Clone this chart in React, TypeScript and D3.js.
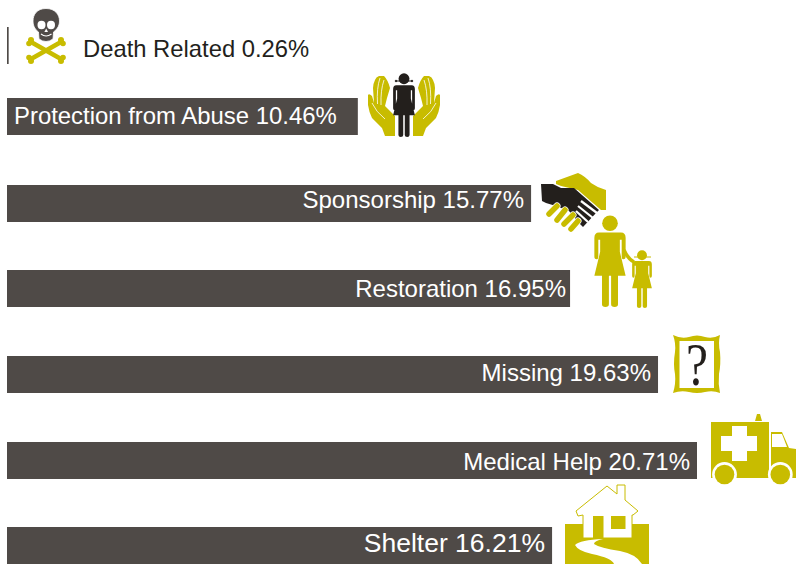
import React from "react";
import * as d3 from "d3";

const categories = ["Death Related", "Protection from Abuse", "Sponsorship", "Restoration", "Missing", "Medical Help", "Shelter"];
const percentLabels = [0.26, 10.46, 15.77, 16.95, 19.63, 20.71, 16.21];
// bar lengths as actually drawn in the picture, in percent units
const drawnLengths = [0.05, 10.53, 15.73, 16.9, 19.54, 20.71, 16.36];

const OLIVE = "#c8bc00";
const BAR = "#4f4a47";
const INK = "#231f1c";
const FONT = "'Liberation Sans', Arial, sans-serif";

const x = d3.scaleLinear().domain([0, 20.71]).range([7, 697]);
const y = d3.scaleLinear().domain([0, 1, 2, 3, 4, 5, 6]).range([27, 98, 185, 270, 356, 442, 527]);
const barH = 37;

function Person({ cx, top, h, fill, arm = 48 }: { cx: number; top: number; h: number; fill: string; arm?: number }) {
  // unit shape: 100 high, centred on 0; arm = percentage height where the arms end
  const k = h / 100;
  const a = arm;
  return (
    <g transform={`translate(${cx},${top}) scale(${k})`} fill={fill}>
      <circle cx={0} cy={9} r={8.5} />
      <path d={`M-12 19 H12 Q17 19 17 25 V${a - 3} Q17 ${a} 14.7 ${a} Q12.7 ${a} 12.7 ${a - 3} V27 H10.7 V40 L17 66 H8.7 V97 Q8.7 100 5 100 Q1.2 100 1.2 97 V66 H-1.2 V97 Q-1.2 100 -5 100 Q-8.7 100 -8.7 97 V66 H-17 L-10.7 40 V27 H-12.7 V${a - 3} Q-12.7 ${a} -14.7 ${a} Q-17 ${a} -17 ${a - 3} V25 Q-17 19 -12 19 Z`} />
    </g>
  );
}

function Skull() {
  return (
    <g>
      <g stroke={OLIVE} strokeWidth={4.5} strokeLinecap="round">
        <line x1={31} y1={42} x2={61} y2={59} />
        <line x1={61} y1={42} x2={31} y2={59} />
      </g>
      <g fill={OLIVE}>
        <circle cx={31} cy={40} r={3} /><circle cx={29} cy={43.5} r={2.8} />
        <circle cx={61} cy={40} r={3} /><circle cx={63} cy={43.5} r={2.8} />
        <circle cx={31} cy={61} r={3} /><circle cx={29} cy={57.5} r={2.8} />
        <circle cx={61} cy={61} r={3} /><circle cx={63} cy={57.5} r={2.8} />
      </g>
      <path fill={BAR} stroke="#fff" strokeWidth={0.8} d="M46 8.5 C37 8.5 33 14.5 33 21 C33 27 36 30 38.5 32 L39 39 Q46 44 53 39 L53.5 32 C56 30 59.5 27 59.5 21 C59.5 14.5 55 8.5 46 8.5 Z" />
      <g fill="#fff">
        <ellipse cx={41.5} cy={25} rx={4} ry={4.2} />
        <ellipse cx={51} cy={25} rx={4} ry={4.2} />
        <path d="M46.2 28.5 L48 32 H44.4 Z" />
      </g>
      <path d="M41 34 Q46 38 51.5 34" fill="none" stroke="#fff" strokeWidth={1.2} />
    </g>
  );
}

function Hand() {
  return (
    <g>
      <path fill={OLIVE} d="M379 76 Q376 77 375 80 Q373 84 373 88 L374 103 L372 96 Q369 93 368 95 L368 105 Q369 112 372 118 L382 128 L385 136 H395 V116 L385 106 L387 98 L390 88 Q388 80 384 76 Z" />
      <g stroke="#fff" strokeWidth={0.8} fill="none">
        <path d="M380 78 Q376.5 88 377.5 104" />
        <path d="M384 80 Q380.5 90 381 105" />
        <path d="M372 103 Q376 112 385 119" />
      </g>
    </g>
  );
}

function Hands() {
  return (
    <g>
      <Hand />
      <g transform="translate(808,0) scale(-1,1)"><Hand /></g>
      <Person cx={404} top={73} h={64} fill={INK} arm={58} />
      <g stroke={INK} strokeWidth={1} fill={INK}>
        <line x1={396} y1={81} x2={412} y2={81} />
        <circle cx={396} cy={81} r={0.8} />
        <circle cx={412} cy={81} r={0.8} />
      </g>
    </g>
  );
}

function Handshake() {
  return (
    <g>
      <path fill={OLIVE} d="M556 181 L578 173 Q585 176 591 183 Q598 188 606 190 V210 H601 L578 190 L561 186 L556 184 Z" />
      <path fill={INK} d="M541 184 H553 L561 188 H574 L599 210 L596 213 L583 227 L579 223 L569 211 L556 206 L546 203 L542 201 Z" />
      <g stroke="#fff" strokeWidth={2.2}>
        <line x1={581} y1={201} x2={597} y2={213} />
        <line x1={578} y1={206} x2={593} y2={218} />
        <line x1={576} y1={211} x2={588} y2={222} />
      </g>
      <g strokeLinecap="round">
        {[[557, 206, 549, 214], [565, 210, 557, 220], [573, 215, 564, 224], [578, 221, 571, 229]].map((s, i) => (
          <g key={i}>
            <line x1={s[0]} y1={s[1]} x2={s[2]} y2={s[3]} stroke="#fff" strokeWidth={7} />
            <line x1={s[0]} y1={s[1]} x2={s[2]} y2={s[3]} stroke={OLIVE} strokeWidth={5.5} />
          </g>
        ))}
      </g>
    </g>
  );
}

function Family() {
  return (
    <g>
      <Person cx={610} top={215} h={92} fill={OLIVE} />
      <Person cx={642} top={250} h={58} fill={OLIVE} />
      <path d="M624 250 Q628 259 634 262" stroke={OLIVE} strokeWidth={3.5} fill="none" />
      <g stroke={OLIVE} strokeWidth={1}>
        <line x1={634} y1={257} x2={651} y2={257} />
      </g>
    </g>
  );
}

function Frame() {
  return (
    <g>
      <path fill={OLIVE} d="M673 335 Q681 339 689 337 Q697 334 705 337 Q713 339 720 335 Q718 343 720 352 Q721 364 719 374 Q718 384 720 393 Q713 390 705 392 Q697 394 689 392 Q681 390 673 393 Q676 384 675 374 Q673 364 675 352 Q676 343 673 335 Z" />
      <rect x={679.5} y={341} width={34.5} height={47} fill="#fff" />
      <text x={0} y={385} textAnchor="middle" fontFamily="'Liberation Serif', serif" fontSize={62} fill={INK} transform="translate(697,0) scale(0.8,1)">?</text>
    </g>
  );
}

function Ambulance() {
  return (
    <g>
      <path fill={OLIVE} d="M755 421 L757 414 H760 L762 421 Z" />
      <path fill={OLIVE} d="M711 422 H769 V478 H711 Z" />
      <path fill={OLIVE} d="M771 432 H782 L789 448 L796 449 V478 H771 Z" />
      <path fill="#fff" d="M772 434 H782 L787 447 H772 Z" />
      <path fill="#fff" d="M721 436 H732 V426 H747 V436 H757 V451 H747 V461 H732 V451 H721 Z" />
      <circle cx={724.5} cy={474.5} r={12.4} fill="#fff" />
      <circle cx={780.3} cy={474.5} r={12.4} fill="#fff" />
      <circle cx={724.5} cy={474.5} r={9.8} fill={OLIVE} />
      <circle cx={780.3} cy={474.5} r={9.8} fill={OLIVE} />
    </g>
  );
}

function House() {
  return (
    <g>
      <rect x={565} y={524} width={84} height={40} fill={OLIVE} />
      <path fill="#fff" stroke={OLIVE} strokeWidth={1} d="M607 486 L617 494 V485 H625 V500 L638 511 L633 515 L632 515 V538 H583 V515 L578 516 L576 511 Z" />
      <rect x={593} y={516} width={10.5} height={22} fill={OLIVE} />
      <rect x={611} y={516} width={14.5} height={13} fill={OLIVE} />
      <path fill="#fff" d="M603 539 Q580 540 575 545 Q578 551 592 554 Q612 558 614 564 H642 Q636 554 620 551 Q600 548 594 544 Q594 541 603 539 Z" />
    </g>
  );
}

const labelLayout = [
  { anchor: "start", lx: 83, base: 57, size: 23.8, fill: INK },
  { anchor: "start", lx: 14, base: 124, size: 23.9, fill: "#fff" },
  { anchor: "end", lx: 524, base: 208, size: 24, fill: "#fff" },
  { anchor: "end", lx: 566, base: 297, size: 24, fill: "#fff" },
  { anchor: "end", lx: 651, base: 381, size: 24, fill: "#fff" },
  { anchor: "end", lx: 690, base: 470, size: 24, fill: "#fff" },
  { anchor: "end", lx: 545, base: 552, size: 26.5, fill: "#fff" },
];

export default function App() {
  return (
    <svg width={796} height={565} style={{ position: "absolute", left: 0, top: 0, background: "#fff" }}>
      {categories.map((c, i) => (
        <rect key={c} x={x(0)} y={y(i)} width={Math.max(1.5, x(drawnLengths[i]) - x(0))} height={barH} fill={BAR} />
      ))}
      <Skull />
      <Hands />
      <Handshake />
      <Family />
      <Frame />
      <Ambulance />
      <House />
      {categories.map((c, i) => {
        const l = labelLayout[i];
        return (
          <text key={c} x={l.lx} y={l.base} textAnchor={l.anchor as any} fontFamily={FONT} fontSize={l.size} fill={l.fill}>
            {`${c} ${percentLabels[i].toFixed(2)}%`}
          </text>
        );
      })}
    </svg>
  );
}
